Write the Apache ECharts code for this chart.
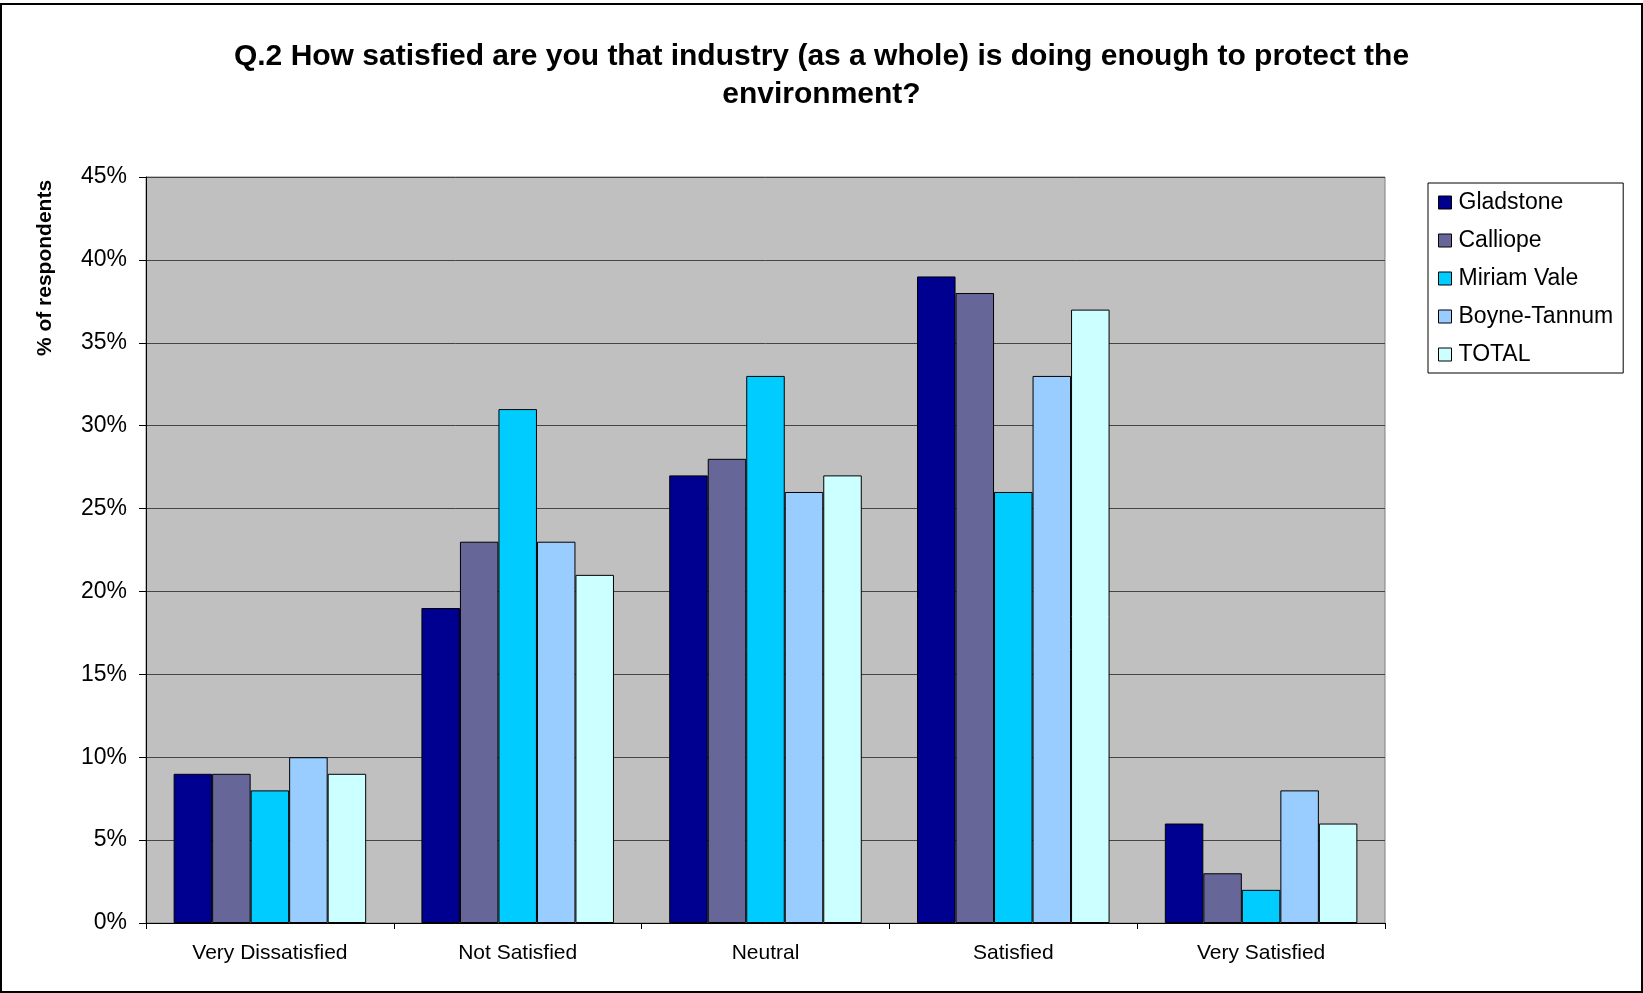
<!DOCTYPE html>
<html>
<head>
<meta charset="utf-8">
<script src="https://cdn.jsdelivr.net/npm/echarts@6/dist/echarts.min.js"></script>
<style>
html,body{margin:0;padding:0;background:#fff;}
#chart{width:1643px;height:993px;}
</style>
</head>
<body>
<div id="chart"></div>
<script>
const categories = ['Very Dissatisfied', 'Not Satisfied', 'Neutral', 'Satisfied', 'Very Satisfied'];
const seriesNames = ['Gladstone', 'Calliope', 'Miriam Vale', 'Boyne-Tannum', 'TOTAL'];
const gladstone = [9, 19, 27, 39, 6];
const calliope = [9, 23, 28, 38, 3];
const miriamVale = [8, 31, 33, 26, 2];
const boyneTannum = [10, 23, 26, 33, 8];
const total = [9, 21, 27, 37, 6];
const seriesValues = [gladstone, calliope, miriamVale, boyneTannum, total];
const colors = ['#000090', '#666699', '#00CCFF', '#99CCFF', '#CCFFFF'];
const titleText = 'Q.2 How satisfied are you that industry (as a whole) is doing enough to protect the\nenvironment?';
const yAxisTitle = '% of respondents';

const FONT = "'Liberation Sans', Arial, sans-serif";
const chart = echarts.init(document.getElementById('chart'), null, {renderer: 'canvas'});

const option = {
  animation: false,
  backgroundColor: '#ffffff',
  textStyle: {fontFamily: FONT},
  title: {
    text: titleText,
    left: 'center',
    top: 33,
    textStyle: {fontFamily: FONT, fontWeight: 'bold', fontSize: 30, color: '#000', lineHeight: 38, align: 'center'}
  },
  graphic: [
    {type: 'rect', silent: true, shape: {x: 1, y: 4, width: 1641, height: 988}, style: {fill: 'none', stroke: '#000', lineWidth: 2}},
    {type: 'text', x: 45, y: 268, rotation: Math.PI / 2,
     style: {text: yAxisTitle, fontFamily: FONT, fontWeight: 'bold', fontSize: 21, fill: '#000', align: 'center', verticalAlign: 'middle'}}
  ],
  legend: {
    orient: 'vertical',
    left: 1428,
    top: 183,
    padding: [8, 10, 7, 10],
    itemWidth: 13,
    itemHeight: 13,
    itemGap: 15,
    icon: 'rect',
    borderColor: '#000',
    borderWidth: 1,
    backgroundColor: '#fff',
    textStyle: {fontFamily: FONT, fontSize: 23, color: '#000', padding: [0, 0, 0, 2]},
    itemStyle: {borderColor: '#000', borderWidth: 1},
    data: seriesNames
  },
  grid: {
    left: 146, right: 258, top: 177, bottom: 70,
    show: true, backgroundColor: '#C0C0C0', borderColor: '#808080', borderWidth: 1,
    containLabel: false
  },
  xAxis: {
    type: 'category',
    data: categories,
    axisLine: {lineStyle: {color: '#000', width: 1}},
    axisTick: {show: true, length: 6, lineStyle: {color: '#000'}},
    axisLabel: {fontFamily: FONT, fontSize: 21, color: '#000', margin: 20}
  },
  yAxis: {
    type: 'value',
    min: 0, max: 45, interval: 5,
    axisLine: {show: true, lineStyle: {color: '#000', width: 1}},
    axisTick: {show: true, length: 7, lineStyle: {color: '#000'}},
    axisLabel: {fontFamily: FONT, fontSize: 23, color: '#000', margin: 19, formatter: '{value}%'},
    splitLine: {show: true, lineStyle: {color: '#444', width: 1}}
  },
  series: seriesNames.map((name, i) => ({
    name: name,
    type: 'bar',
    data: seriesValues[i],
    barGap: '0%',
    barCategoryGap: '22.3%',
    itemStyle: {color: colors[i], borderColor: '#000', borderWidth: 1}
  }))
};
chart.setOption(option);
</script>
</body>
</html>
